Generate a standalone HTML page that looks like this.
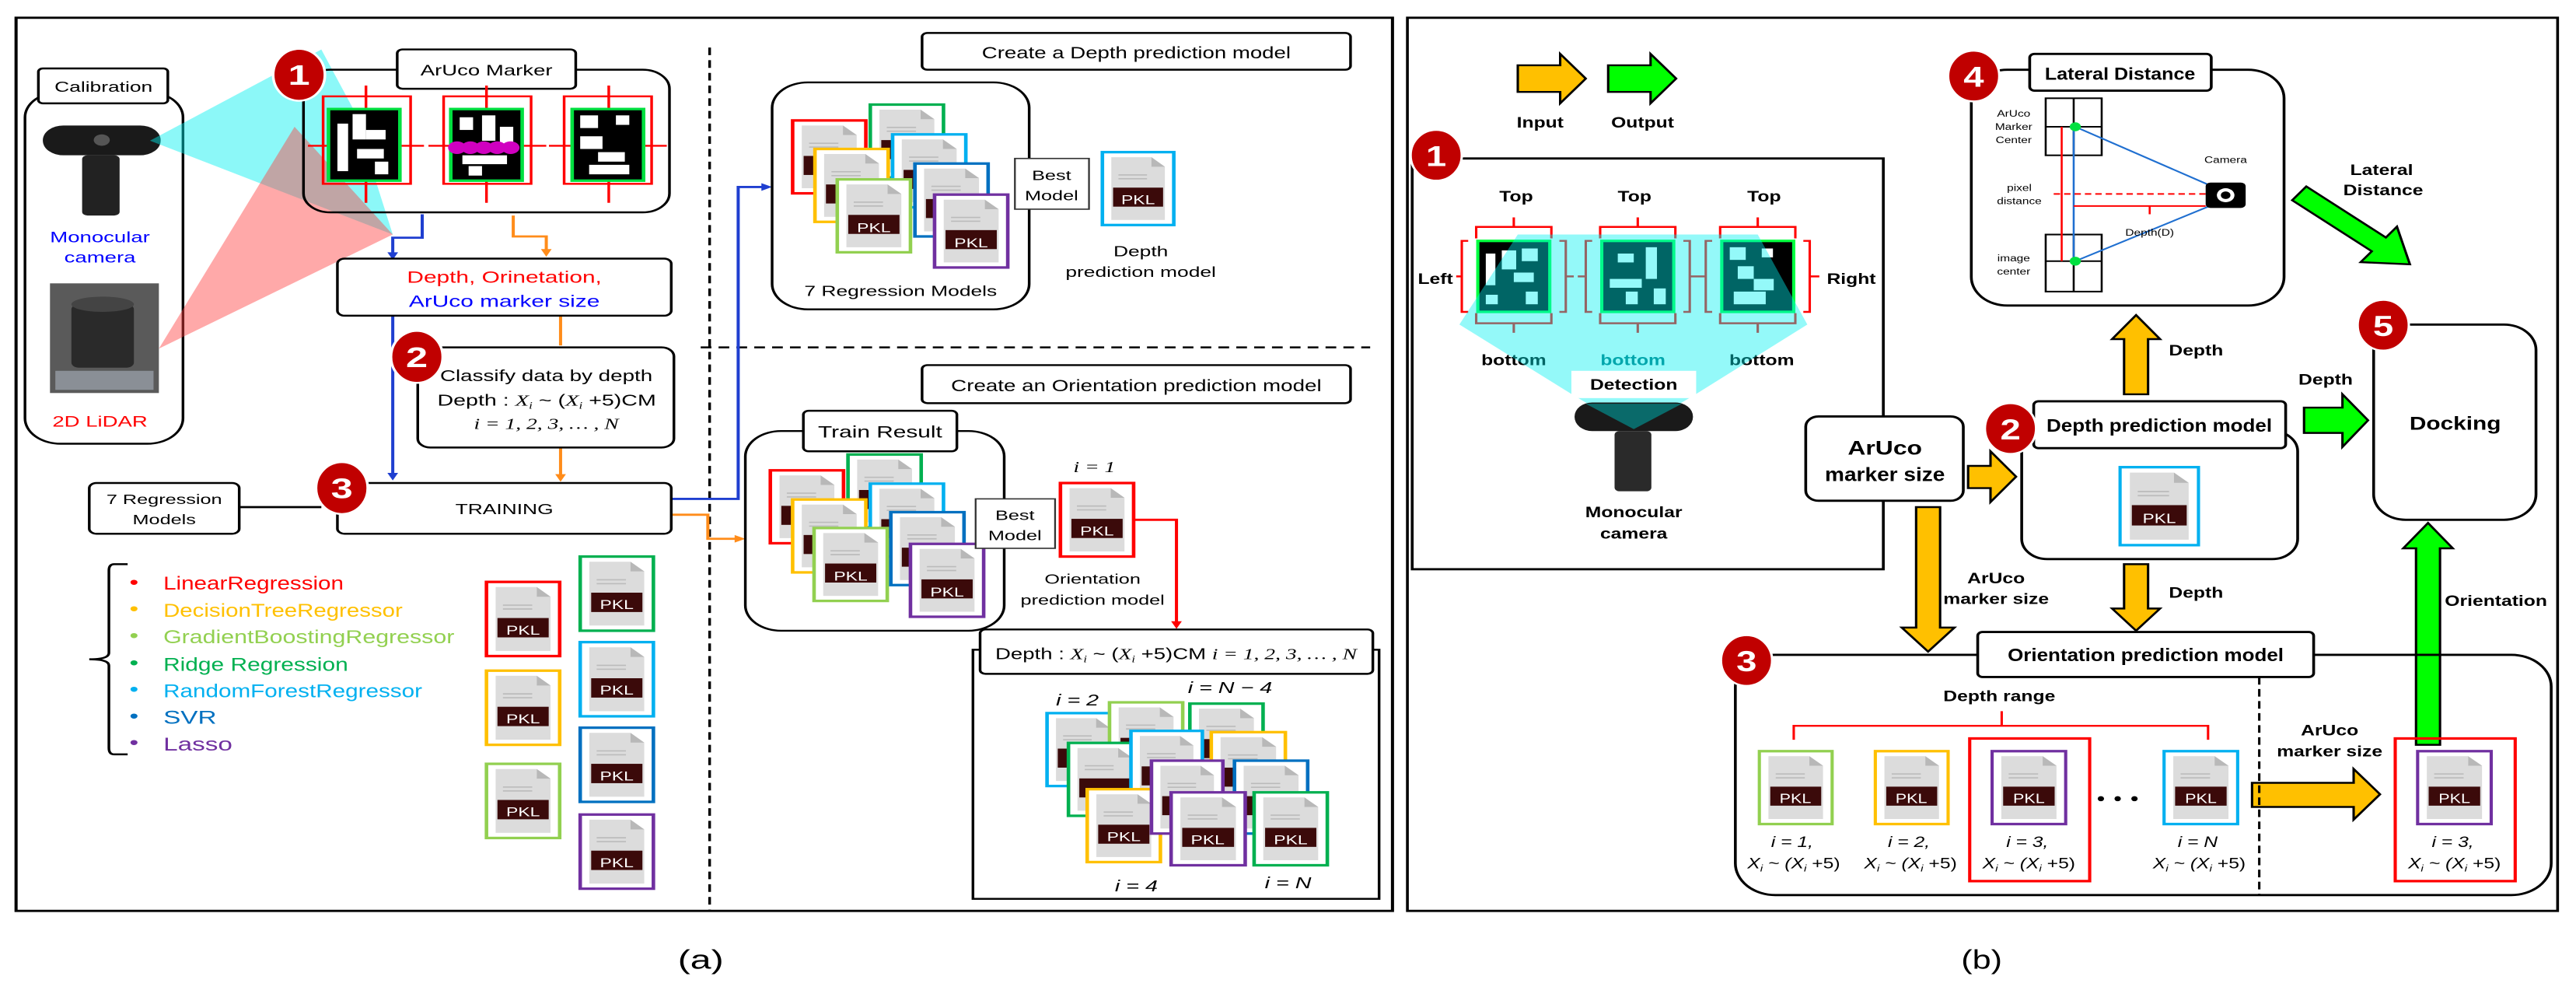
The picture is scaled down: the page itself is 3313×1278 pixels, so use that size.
<!DOCTYPE html>
<html><head><meta charset="utf-8"><style>
html,body{margin:0;padding:0;background:#fff;}
svg{display:block;}
text{font-family:"Liberation Sans",sans-serif;}
.b{font-weight:bold;}
.m{font-family:"Liberation Serif",serif;font-style:italic;}
</style></head><body>
<svg width="3313" height="1278" viewBox="0 0 3313 1278" xmlns="http://www.w3.org/2000/svg">
<defs>
<symbol id="doc" viewBox="0 0 80 115" preserveAspectRatio="none">
<polygon points="10,8 55,8 70,23 70,107 10,107" fill="#dcdcdc"/>
<polygon points="55,8 55,23 70,23" fill="#b8b8b8"/>
<line x1="18" y1="36" x2="50" y2="36" stroke="#bbb" stroke-width="2"/>
<line x1="18" y1="42" x2="50" y2="42" stroke="#bbb" stroke-width="2"/>
<rect x="12" y="56" width="56" height="30" fill="#3b0a0a"/>
</symbol>
</defs>
<rect width="3313" height="1278" fill="#fff"/>

<!-- ================= PANEL A ================= -->
<g transform="scale(1.148,0.815)">
<rect x="18" y="28" width="1542" height="1409" fill="none" stroke="#000" stroke-width="3.5"/>
<line x1="795" y1="75" x2="795" y2="1437" stroke="#000" stroke-width="3" stroke-dasharray="12,8"/>
<line x1="785" y1="548" x2="1535" y2="548" stroke="#000" stroke-width="3" stroke-dasharray="12,8"/>

<rect x="28" y="145" width="177" height="555" rx="40" fill="none" stroke="#000" stroke-width="3"/>
<rect x="43" y="108" width="145" height="55" rx="5" fill="#fff" stroke="#000" stroke-width="3"/>
<text x="116" y="145" font-size="23" text-anchor="middle">Calibration</text>
<rect x="48" y="198" width="132" height="47" rx="23" fill="#1a1a1a"/>
<circle cx="114" cy="221" r="9" fill="#555"/>
<rect x="92" y="245" width="42" height="95" rx="6" fill="#222"/>
<text x="112" y="382" font-size="24" fill="#0000ff" text-anchor="middle">Monocular</text>
<text x="112" y="414" font-size="24" fill="#0000ff" text-anchor="middle">camera</text>
<rect x="56" y="447" width="122" height="173" fill="#5a5a5a"/>
<rect x="80" y="480" width="70" height="100" rx="8" fill="#2a2a2a"/>
<ellipse cx="115" cy="480" rx="35" ry="12" fill="#444"/>
<rect x="62" y="585" width="110" height="30" fill="#8a8f96"/>
<text x="112" y="673" font-size="24" fill="#ff0000" text-anchor="middle">2D LiDAR</text>

<polygon points="168,222 360,78 395,170 440,370" fill="#00f0f0" fill-opacity="0.45"/>
<polygon points="178,550 330,200 440,370" fill="#ff4040" fill-opacity="0.45"/>

<rect x="340" y="110" width="410" height="225" rx="30" fill="none" stroke="#000" stroke-width="3"/>
<rect x="445" y="78" width="200" height="62" rx="6" fill="#fff" stroke="#000" stroke-width="3"/>
<text x="545" y="119" font-size="24" text-anchor="middle">ArUco Marker</text>
<g stroke="#ff0000" stroke-width="3" fill="none">
<rect x="362" y="152" width="98" height="138"/><line x1="345" y1="230" x2="475" y2="230"/><line x1="410" y1="135" x2="410" y2="320"/>
<rect x="497" y="152" width="98" height="138"/><line x1="480" y1="230" x2="612" y2="230"/><line x1="545" y1="135" x2="545" y2="320"/>
<rect x="632" y="152" width="98" height="138"/><line x1="615" y1="230" x2="747" y2="230"/><line x1="682" y1="135" x2="682" y2="320"/>
</g>
<g stroke="#00e040" stroke-width="4">
<rect x="368" y="172" width="80" height="113" fill="#000"/>
<rect x="505" y="172" width="80" height="113" fill="#000"/>
<rect x="641" y="172" width="80" height="113" fill="#000"/>
</g>
<g fill="#fff">
<rect x="378" y="195" width="12" height="75"/><rect x="395" y="180" width="15" height="40"/><rect x="410" y="205" width="22" height="15"/><rect x="400" y="235" width="30" height="15"/><rect x="420" y="255" width="15" height="20"/>
<rect x="515" y="185" width="15" height="20"/><rect x="540" y="182" width="15" height="40"/><rect x="560" y="200" width="15" height="30"/><rect x="518" y="245" width="50" height="14"/><rect x="525" y="262" width="15" height="15"/>
<rect x="650" y="182" width="20" height="20"/><rect x="690" y="182" width="15" height="15"/><rect x="650" y="215" width="25" height="20"/><rect x="670" y="240" width="30" height="15"/><rect x="660" y="260" width="45" height="15"/>
</g>
<g fill="#d000c0"><circle cx="512" cy="233" r="10"/><circle cx="527" cy="233" r="10"/><circle cx="542" cy="233" r="10"/><circle cx="557" cy="233" r="10"/><circle cx="572" cy="233" r="10"/></g>
<ellipse cx="335" cy="118" rx="29" ry="41" fill="#c00000" stroke="#fff" stroke-width="3"/>
<text x="335" y="134" font-size="44" class="b" fill="#fff" text-anchor="middle">1</text>

<g fill="none" stroke-width="3.5">
<path d="M473,338 V375 H440 V400" stroke="#1f3fd0"/>
<path d="M440,498 V748" stroke="#1f3fd0"/>
<path d="M752,787 H827 V295 H855" stroke="#1f3fd0"/>
<path d="M575,340 V373 H612 V395" stroke="#ff8c1a"/>
<path d="M628,498 V545" stroke="#ff8c1a"/>
<path d="M628,706 V750" stroke="#ff8c1a"/>
<path d="M752,812 H793 V850 H825" stroke="#ff8c1a"/>
<path d="M268,800 H360" stroke="#000"/>
<path d="M1270,820 H1318 V982" stroke="#ff0000"/>
</g>
<g>
<path d="M434,398 L446,398 L440,410 Z" fill="#1f3fd0"/>
<path d="M434,746 L446,746 L440,758 Z" fill="#1f3fd0"/>
<path d="M853,289 L865,295 L853,301 Z" fill="#1f3fd0"/>
<path d="M606,393 L618,393 L612,405 Z" fill="#ff8c1a"/>
<path d="M622,748 L634,748 L628,760 Z" fill="#ff8c1a"/>
<path d="M823,844 L835,850 L823,856 Z" fill="#ff8c1a"/>
<path d="M1312,980 L1324,980 L1318,992 Z" fill="#ff0000"/>
</g>

<rect x="378" y="408" width="374" height="90" rx="8" fill="#fff" stroke="#000" stroke-width="3"/>
<text x="565" y="446" font-size="26" fill="#ff0000" text-anchor="middle">Depth, Orinetation,</text>
<text x="565" y="484" font-size="26" fill="#0000ff" text-anchor="middle">ArUco marker size</text>

<rect x="468" y="548" width="287" height="158" rx="14" fill="#fff" stroke="#000" stroke-width="3"/>
<text x="612" y="601" font-size="25" text-anchor="middle" textLength="238" lengthAdjust="spacingAndGlyphs">Classify data by depth</text>
<text x="490" y="640" font-size="25" textLength="245" lengthAdjust="spacingAndGlyphs">Depth : <tspan class="m">X</tspan><tspan class="m" font-size="15" dy="5">i</tspan><tspan dy="-5"> ~ (</tspan><tspan class="m">X</tspan><tspan class="m" font-size="15" dy="5">i</tspan><tspan dy="-5"> +5)CM</tspan></text>
<text x="612" y="677" font-size="24" text-anchor="middle" class="m">i = 1, 2, 3, … , N</text>
<ellipse cx="467" cy="563" rx="29" ry="41" fill="#c00000" stroke="#fff" stroke-width="3"/>
<text x="467" y="579" font-size="44" class="b" fill="#fff" text-anchor="middle">2</text>

<rect x="378" y="762" width="374" height="80" rx="8" fill="#fff" stroke="#000" stroke-width="3"/>
<text x="565" y="811" font-size="23" text-anchor="middle">TRAINING</text>
<ellipse cx="383" cy="770" rx="29" ry="41" fill="#c00000" stroke="#fff" stroke-width="3"/>
<text x="383" y="786" font-size="44" class="b" fill="#fff" text-anchor="middle">3</text>

<rect x="100" y="762" width="168" height="80" rx="8" fill="#fff" stroke="#000" stroke-width="3"/>
<text x="184" y="795" font-size="22" text-anchor="middle">7 Regression</text>
<text x="184" y="827" font-size="22" text-anchor="middle">Models</text>

<path d="M143,890 H128 Q122,890 122,900 V1030 Q122,1040 100,1040 Q122,1040 122,1050 V1180 Q122,1190 128,1190 H143" fill="none" stroke="#000" stroke-width="3"/>
<g font-size="29">
<text x="145" y="928" fill="#ff0000">•</text><text x="183" y="930" fill="#ff0000" textLength="202" lengthAdjust="spacingAndGlyphs">LinearRegression</text>
<text x="145" y="970" fill="#ffc000">•</text><text x="183" y="973" fill="#ffc000" textLength="268" lengthAdjust="spacingAndGlyphs">DecisionTreeRegressor</text>
<text x="145" y="1012" fill="#92d050">•</text><text x="183" y="1015" fill="#92d050" textLength="326" lengthAdjust="spacingAndGlyphs">GradientBoostingRegressor</text>
<text x="145" y="1055" fill="#00b050">•</text><text x="183" y="1058" fill="#00b050" textLength="207" lengthAdjust="spacingAndGlyphs">Ridge Regression</text>
<text x="145" y="1097" fill="#00b0f0">•</text><text x="183" y="1100" fill="#00b0f0" textLength="290" lengthAdjust="spacingAndGlyphs">RandomForestRegressor</text>
<text x="145" y="1139" fill="#0070c0">•</text><text x="183" y="1142" fill="#0070c0">SVR</text>
<text x="145" y="1181" fill="#7030a0">•</text><text x="183" y="1184" fill="#7030a0">Lasso</text>
</g>

<g stroke-width="4" fill="#fff">
<rect x="545" y="918" width="82" height="117" stroke="#ff0000"/><rect x="545" y="1058" width="82" height="117" stroke="#ffc000"/><rect x="545" y="1205" width="82" height="117" stroke="#92d050"/>
<rect x="650" y="878" width="82" height="117" stroke="#00b050"/><rect x="650" y="1013" width="82" height="117" stroke="#00b0f0"/><rect x="650" y="1148" width="82" height="117" stroke="#0070c0"/><rect x="650" y="1285" width="82" height="117" stroke="#7030a0"/>
</g>
<use href="#doc" x="545" y="918" width="82" height="117"/><use href="#doc" x="545" y="1058" width="82" height="117"/><use href="#doc" x="545" y="1205" width="82" height="117"/>
<use href="#doc" x="650" y="878" width="82" height="117"/><use href="#doc" x="650" y="1013" width="82" height="117"/><use href="#doc" x="650" y="1148" width="82" height="117"/><use href="#doc" x="650" y="1285" width="82" height="117"/>
<g font-size="20" fill="#fff" text-anchor="middle">
<text x="586" y="1001">PKL</text><text x="586" y="1141">PKL</text><text x="586" y="1288">PKL</text>
<text x="691" y="961">PKL</text><text x="691" y="1096">PKL</text><text x="691" y="1231">PKL</text><text x="691" y="1368">PKL</text>
</g>

<rect x="1033" y="52" width="480" height="58" rx="6" fill="#fff" stroke="#000" stroke-width="3"/>
<text x="1273" y="92" font-size="26" text-anchor="middle" textLength="346" lengthAdjust="spacingAndGlyphs">Create a Depth prediction model</text>
<rect x="865" y="130" width="288" height="358" rx="40" fill="none" stroke="#000" stroke-width="3"/>
<g stroke-width="4" fill="#fff">
<rect x="888" y="190" width="82" height="115" stroke="#ff0000"/><use href="#doc" x="888" y="190" width="82" height="115"/>
<rect x="975" y="165" width="82" height="115" stroke="#00b050"/><use href="#doc" x="975" y="165" width="82" height="115"/>
<rect x="913" y="235" width="82" height="115" stroke="#ffc000"/><use href="#doc" x="913" y="235" width="82" height="115"/>
<rect x="1000" y="212" width="82" height="115" stroke="#00b0f0"/><use href="#doc" x="1000" y="212" width="82" height="115"/>
<rect x="938" y="283" width="82" height="115" stroke="#92d050"/><use href="#doc" x="938" y="283" width="82" height="115"/>
<rect x="1025" y="258" width="82" height="115" stroke="#0070c0"/><use href="#doc" x="1025" y="258" width="82" height="115"/>
<rect x="1047" y="307" width="82" height="115" stroke="#7030a0"/><use href="#doc" x="1047" y="307" width="82" height="115"/>
</g>
<g font-size="20" fill="#fff" text-anchor="middle"><text x="979" y="366">PKL</text><text x="1088" y="390">PKL</text></g>
<text x="1009" y="467" font-size="23" text-anchor="middle">7 Regression Models</text>
<rect x="1137" y="250" width="83" height="80" fill="#fff" stroke="#333" stroke-width="2"/>
<text x="1178" y="284" font-size="22" text-anchor="middle">Best</text><text x="1178" y="316" font-size="22" text-anchor="middle">Model</text>
<rect x="1235" y="240" width="80" height="115" fill="#fff" stroke="#00b0f0" stroke-width="4"/><use href="#doc" x="1235" y="240" width="80" height="115"/>
<text x="1275" y="322" font-size="20" fill="#fff" text-anchor="middle">PKL</text>
<text x="1278" y="404" font-size="23" text-anchor="middle">Depth</text>
<text x="1278" y="437" font-size="23" text-anchor="middle">prediction model</text>

<rect x="1033" y="576" width="480" height="60" rx="6" fill="#fff" stroke="#000" stroke-width="3"/>
<text x="1273" y="617" font-size="26" text-anchor="middle" textLength="415" lengthAdjust="spacingAndGlyphs">Create an Orientation prediction model</text>
<rect x="835" y="680" width="290" height="315" rx="40" fill="none" stroke="#000" stroke-width="3"/>
<rect x="900" y="648" width="172" height="64" rx="6" fill="#fff" stroke="#000" stroke-width="3"/>
<text x="986" y="690" font-size="26" text-anchor="middle">Train Result</text>
<g stroke-width="4" fill="#fff">
<rect x="863" y="742" width="82" height="115" stroke="#ff0000"/><use href="#doc" x="863" y="742" width="82" height="115"/>
<rect x="950" y="717" width="82" height="115" stroke="#00b050"/><use href="#doc" x="950" y="717" width="82" height="115"/>
<rect x="888" y="788" width="82" height="115" stroke="#ffc000"/><use href="#doc" x="888" y="788" width="82" height="115"/>
<rect x="975" y="763" width="82" height="115" stroke="#00b0f0"/><use href="#doc" x="975" y="763" width="82" height="115"/>
<rect x="912" y="833" width="82" height="115" stroke="#92d050"/><use href="#doc" x="912" y="833" width="82" height="115"/>
<rect x="998" y="808" width="82" height="115" stroke="#0070c0"/><use href="#doc" x="998" y="808" width="82" height="115"/>
<rect x="1020" y="858" width="82" height="115" stroke="#7030a0"/><use href="#doc" x="1020" y="858" width="82" height="115"/>
</g>
<g font-size="20" fill="#fff" text-anchor="middle"><text x="953" y="916">PKL</text><text x="1061" y="941">PKL</text></g>
<rect x="1093" y="787" width="89" height="78" fill="#fff" stroke="#333" stroke-width="2"/>
<text x="1137" y="820" font-size="22" text-anchor="middle">Best</text><text x="1137" y="852" font-size="22" text-anchor="middle">Model</text>
<text x="1226" y="745" font-size="24" class="m" text-anchor="middle">i = 1</text>
<rect x="1188" y="762" width="82" height="116" fill="#fff" stroke="#ff0000" stroke-width="4"/><use href="#doc" x="1188" y="762" width="82" height="116"/>
<text x="1229" y="845" font-size="20" fill="#fff" text-anchor="middle">PKL</text>
<text x="1224" y="921" font-size="22" text-anchor="middle">Orientation</text>
<text x="1224" y="954" font-size="22" text-anchor="middle">prediction model</text>

<rect x="1090" y="1025" width="455" height="393" fill="none" stroke="#000" stroke-width="3"/>
<rect x="1098" y="993" width="440" height="70" rx="6" fill="#fff" stroke="#000" stroke-width="3"/>
<text x="1115" y="1040" font-size="25" textLength="405" lengthAdjust="spacingAndGlyphs">Depth : <tspan class="m">X</tspan><tspan class="m" font-size="15" dy="5">i</tspan><tspan dy="-5"> ~ (</tspan><tspan class="m">X</tspan><tspan class="m" font-size="15" dy="5">i</tspan><tspan dy="-5"> +5)CM </tspan><tspan class="m">i = 1, 2, 3, … , N</tspan></text>
<g stroke-width="4" fill="#fff">
<rect x="1173" y="1125" width="80" height="115" stroke="#00b0f0"/><use href="#doc" x="1173" y="1125" width="80" height="115"/>
<rect x="1243" y="1108" width="82" height="115" stroke="#92d050"/><use href="#doc" x="1243" y="1108" width="82" height="115"/>
<rect x="1333" y="1110" width="82" height="115" stroke="#00b050"/><use href="#doc" x="1333" y="1110" width="82" height="115"/>
<rect x="1197" y="1172" width="81" height="115" stroke="#00b050"/><use href="#doc" x="1197" y="1172" width="81" height="115"/>
<rect x="1267" y="1153" width="80" height="115" stroke="#00b0f0"/><use href="#doc" x="1267" y="1153" width="80" height="115"/>
<rect x="1357" y="1155" width="83" height="115" stroke="#ffc000"/><use href="#doc" x="1357" y="1155" width="83" height="115"/>
<rect x="1218" y="1245" width="82" height="115" stroke="#ffc000"/><use href="#doc" x="1218" y="1245" width="82" height="115"/>
<rect x="1290" y="1200" width="80" height="115" stroke="#7030a0"/><use href="#doc" x="1290" y="1200" width="80" height="115"/>
<rect x="1383" y="1200" width="82" height="115" stroke="#0070c0"/><use href="#doc" x="1383" y="1200" width="82" height="115"/>
<rect x="1312" y="1250" width="83" height="115" stroke="#7030a0"/><use href="#doc" x="1312" y="1250" width="83" height="115"/>
<rect x="1405" y="1250" width="82" height="115" stroke="#00b050"/><use href="#doc" x="1405" y="1250" width="82" height="115"/>
</g>
<g font-size="20" fill="#fff" text-anchor="middle"><text x="1259" y="1327">PKL</text><text x="1353" y="1332">PKL</text><text x="1446" y="1332">PKL</text></g>
<g font-size="25" class="m" text-anchor="middle">
<text x="1207" y="1113">i = 2</text><text x="1378" y="1093">i = N − 4</text><text x="1273" y="1406">i = 4</text><text x="1443" y="1401">i = N</text>
</g>
<text x="785" y="1528" font-size="42" text-anchor="middle">(a)</text>
</g>

<!-- ================= PANEL B ================= -->
<g transform="translate(1700,0) scale(1.0287,0.815)">
<rect x="107" y="28" width="1438" height="1409" fill="none" stroke="#000" stroke-width="3.5"/>

<path d="M245,103 H298 V85 L330,124 L298,163 V145 H245 Z" fill="#ffc000" stroke="#000" stroke-width="3"/>
<path d="M358,103 H411 V85 L443,124 L411,163 V145 H358 Z" fill="#00ff00" stroke="#000" stroke-width="3"/>
<text x="273" y="201" font-size="24" class="b" text-anchor="middle">Input</text>
<text x="401" y="201" font-size="24" class="b" text-anchor="middle">Output</text>

<rect x="113" y="250" width="589" height="648" fill="none" stroke="#000" stroke-width="3.5"/>
<ellipse cx="143" cy="245" rx="32" ry="40" fill="#c00000" stroke="#fff" stroke-width="3"/>
<text x="143" y="262" font-size="46" class="b" fill="#fff" text-anchor="middle">1</text>
<g font-size="24" class="b" text-anchor="middle">
<text x="243" y="318">Top</text><text x="391" y="318">Top</text><text x="553" y="318">Top</text>
<text x="142" y="448">Left</text><text x="662" y="448">Right</text>
<text x="240" y="576">bottom</text><text x="389" y="576" fill="#00707a">bottom</text><text x="550" y="576">bottom</text>
</g>
<g stroke="#ff0000" stroke-width="3" fill="none">
<path d="M193,376 V358 H287 V376 M240,358 V343 M193,494 V510 H287 V494 M240,510 V525 M183,380 H175 V492 H183 M175,436 H168 M297,380 H305 V492 H297 M305,436 H315"/>
<path d="M348,376 V358 H442 V376 M395,358 V343 M348,494 V510 H442 V494 M395,510 V525 M338,380 H330 V492 H338 M330,436 H320 M452,380 H460 V492 H452 M460,436 H470"/>
<path d="M498,376 V358 H592 V376 M545,358 V343 M498,494 V510 H592 V494 M545,510 V525 M488,380 H480 V492 H488 M480,436 H470 M602,380 H610 V492 H602 M610,436 H622"/>
</g>
<g stroke="#00ff40" stroke-width="4" fill="#000">
<rect x="195" y="380" width="90" height="112"/><rect x="350" y="380" width="90" height="112"/><rect x="500" y="380" width="90" height="112"/>
</g>
<g fill="#fff">
<rect x="205" y="400" width="12" height="50"/><rect x="225" y="395" width="18" height="30"/><rect x="250" y="392" width="20" height="20"/><rect x="240" y="430" width="25" height="15"/><rect x="205" y="465" width="15" height="15"/><rect x="255" y="460" width="15" height="20"/>
<rect x="370" y="400" width="20" height="14"/><rect x="405" y="390" width="14" height="50"/><rect x="360" y="440" width="40" height="14"/><rect x="380" y="460" width="15" height="20"/><rect x="415" y="455" width="15" height="25"/>
<rect x="510" y="390" width="20" height="20"/><rect x="550" y="392" width="14" height="14"/><rect x="520" y="420" width="20" height="20"/><rect x="540" y="440" width="25" height="18"/><rect x="515" y="460" width="40" height="20"/>
</g>
<polygon points="172,512 245,370 545,370 607,512 470,620 390,680 310,620" fill="#00f0f0" fill-opacity="0.42"/>
<rect x="312" y="585" width="156" height="43" fill="#fff"/>
<text x="390" y="615" font-size="24" class="b" text-anchor="middle">Detection</text>
<rect x="316" y="635" width="148" height="45" rx="22" fill="#1a1a1a"/>
<polygon points="330,637 450,637 390,677" fill="#00a0a0" fill-opacity="0.6"/>
<rect x="366" y="680" width="46" height="95" rx="6" fill="#2a2a2a"/>
<text x="390" y="816" font-size="24" class="b" text-anchor="middle">Monocular</text>
<text x="390" y="850" font-size="24" class="b" text-anchor="middle">camera</text>

<rect x="605" y="657" width="197" height="133" rx="16" fill="#fff" stroke="#000" stroke-width="3.5"/>
<text x="704" y="717" font-size="31" class="b" text-anchor="middle">ArUco</text>
<text x="704" y="759" font-size="31" class="b" text-anchor="middle" textLength="150" lengthAdjust="spacingAndGlyphs">marker size</text>

<rect x="875" y="680" width="345" height="202" rx="32" fill="none" stroke="#000" stroke-width="3.5"/>
<rect x="890" y="633" width="315" height="74" rx="6" fill="#fff" stroke="#000" stroke-width="3.5"/>
<text x="1047" y="681" font-size="28" class="b" text-anchor="middle" textLength="282" lengthAdjust="spacingAndGlyphs">Depth prediction model</text>
<ellipse cx="861" cy="676" rx="32" ry="40" fill="#c00000" stroke="#fff" stroke-width="3"/>
<text x="861" y="693" font-size="46" class="b" fill="#fff" text-anchor="middle">2</text>
<rect x="998" y="737" width="98" height="123" fill="#fff" stroke="#00b0f0" stroke-width="4"/><use href="#doc" x="998" y="737" width="98" height="123"/>
<text x="1047" y="825" font-size="22" fill="#fff" text-anchor="middle">PKL</text>

<rect x="812" y="110" width="391" height="372" rx="45" fill="none" stroke="#000" stroke-width="3.5"/>
<rect x="885" y="85" width="227" height="58" rx="6" fill="#fff" stroke="#000" stroke-width="3.5"/>
<text x="998" y="126" font-size="27" class="b" text-anchor="middle" textLength="188" lengthAdjust="spacingAndGlyphs">Lateral Distance</text>
<ellipse cx="815" cy="120" rx="32" ry="40" fill="#c00000" stroke="#fff" stroke-width="3"/>
<text x="815" y="137" font-size="46" class="b" fill="#fff" text-anchor="middle">4</text>
<g stroke="#000" stroke-width="2.5" fill="none">
<rect x="905" y="155" width="70" height="90"/><line x1="940" y1="155" x2="940" y2="245"/><line x1="905" y1="200" x2="975" y2="200"/>
<rect x="905" y="370" width="70" height="90"/><line x1="940" y1="370" x2="940" y2="460"/><line x1="905" y1="412" x2="975" y2="412"/>
</g>
<line x1="940" y1="200" x2="940" y2="412" stroke="#1f6fd0" stroke-width="2.5"/>
<line x1="925" y1="200" x2="925" y2="412" stroke="#ff0000" stroke-width="2.5"/>
<line x1="940" y1="325" x2="1105" y2="325" stroke="#ff0000" stroke-width="2.5"/>
<line x1="1035" y1="325" x2="1035" y2="338" stroke="#ff0000" stroke-width="2.5"/>
<line x1="915" y1="306" x2="1110" y2="306" stroke="#ff0000" stroke-width="2.5" stroke-dasharray="8,5"/>
<line x1="942" y1="200" x2="1115" y2="295" stroke="#1f6fd0" stroke-width="2.5"/>
<line x1="942" y1="412" x2="1110" y2="325" stroke="#1f6fd0" stroke-width="2.5"/>
<circle cx="942" cy="200" r="7" fill="#00e040"/><circle cx="942" cy="412" r="7" fill="#00e040"/>
<rect x="1105" y="288" width="50" height="40" rx="6" fill="#000"/><circle cx="1130" cy="308" r="11" fill="#fff"/><circle cx="1130" cy="308" r="6" fill="#000"/>
<g font-size="15" text-anchor="middle">
<text x="865" y="184">ArUco</text><text x="865" y="205">Marker</text><text x="865" y="226">Center</text>
<text x="872" y="301">pixel</text><text x="872" y="322">distance</text>
<text x="865" y="412">image</text><text x="865" y="433">center</text>
<text x="1130" y="257">Camera</text><text x="1035" y="372">Depth(D)</text>
</g>

<path d="M808,735 H836 V712 L868,752 L836,792 V770 H808 Z" fill="#ffc000" stroke="#000" stroke-width="3"/>
<path d="M1003,622 V535 H988 L1018,497 L1048,535 H1033 V622 Z" fill="#ffc000" stroke="#000" stroke-width="3"/>
<path d="M1003,890 V960 H988 L1018,995 L1048,960 H1033 V890 Z" fill="#ffc000" stroke="#000" stroke-width="3"/>
<path d="M743,800 V990 H725 L758,1028 L791,990 H773 V800 Z" fill="#ffc000" stroke="#000" stroke-width="3"/>
<path d="M1163,1235 H1290 V1213 L1323,1253 L1290,1293 V1273 H1163 Z" fill="#ffc000" stroke="#000" stroke-width="3"/>
<path d="M1228,643 H1276 V622 L1308,663 L1276,705 V683 H1228 Z" fill="#00ff00" stroke="#000" stroke-width="3"/>
<path d="M1368,1175 V865 H1352 L1383,825 L1414,865 H1398 V1175 Z" fill="#00ff00" stroke="#000" stroke-width="3"/>
<path d="M0,-14 H128 V-36 L178,0 L128,36 V14 H0 Z" fill="#00ff00" stroke="#000" stroke-width="3" transform="translate(1222,305) rotate(39)"/>
<g font-size="24" class="b" text-anchor="middle">
<text x="1093" y="561">Depth</text><text x="1255" y="607">Depth</text><text x="1093" y="943">Depth</text>
<text x="843" y="920">ArUco</text><text x="843" y="953">marker size</text>
<text x="1325" y="276">Lateral</text><text x="1327" y="308">Distance</text>
<text x="1468" y="956">Orientation</text>
<text x="1260" y="1160">ArUco</text><text x="1260" y="1193">marker size</text>
<text x="847" y="1106">Depth range</text>
</g>

<rect x="1315" y="512" width="203" height="308" rx="40" fill="none" stroke="#000" stroke-width="3.5"/>
<text x="1417" y="678" font-size="29" class="b" text-anchor="middle">Docking</text>
<ellipse cx="1327" cy="513" rx="32" ry="40" fill="#c00000" stroke="#fff" stroke-width="3"/>
<text x="1327" y="530" font-size="46" class="b" fill="#fff" text-anchor="middle">5</text>

<rect x="517" y="1033" width="1020" height="379" rx="50" fill="none" stroke="#000" stroke-width="3.5"/>
<line x1="1172" y1="1068" x2="1172" y2="1412" stroke="#000" stroke-width="3" stroke-dasharray="12,7"/>
<rect x="820" y="997" width="420" height="71" rx="6" fill="#fff" stroke="#000" stroke-width="3.5"/>
<text x="1030" y="1043" font-size="28" class="b" text-anchor="middle" textLength="345" lengthAdjust="spacingAndGlyphs">Orientation prediction model</text>
<ellipse cx="531" cy="1042" rx="32" ry="40" fill="#c00000" stroke="#fff" stroke-width="3"/>
<text x="531" y="1059" font-size="46" class="b" fill="#fff" text-anchor="middle">3</text>
<path d="M590,1167 V1145 H1108 V1167 M850,1145 V1122" fill="none" stroke="#ff0000" stroke-width="3"/>
<rect x="810" y="1165" width="150" height="225" fill="none" stroke="#ff0000" stroke-width="4"/>
<rect x="1342" y="1165" width="150" height="225" fill="none" stroke="#ff0000" stroke-width="4"/>
<g stroke-width="4" fill="#fff">
<rect x="547" y="1185" width="91" height="115" stroke="#92d050"/><use href="#doc" x="547" y="1185" width="91" height="115"/>
<rect x="692" y="1185" width="91" height="115" stroke="#ffc000"/><use href="#doc" x="692" y="1185" width="91" height="115"/>
<rect x="838" y="1185" width="92" height="115" stroke="#7030a0"/><use href="#doc" x="838" y="1185" width="92" height="115"/>
<rect x="1053" y="1185" width="92" height="115" stroke="#00b0f0"/><use href="#doc" x="1053" y="1185" width="92" height="115"/>
<rect x="1370" y="1185" width="92" height="115" stroke="#7030a0"/><use href="#doc" x="1370" y="1185" width="92" height="115"/>
</g>
<g font-size="21" fill="#fff" text-anchor="middle">
<text x="592" y="1267">PKL</text><text x="737" y="1267">PKL</text><text x="884" y="1267">PKL</text><text x="1099" y="1267">PKL</text><text x="1416" y="1267">PKL</text>
</g>
<g fill="#000"><circle cx="974" cy="1260" r="4"/><circle cx="995" cy="1260" r="4"/><circle cx="1016" cy="1260" r="4"/></g>
<g font-size="24" class="m" text-anchor="middle">
<text x="588" y="1336">i = 1,</text><text x="734" y="1336">i = 2,</text><text x="882" y="1336">i = 3,</text><text x="1095" y="1336">i = N</text><text x="1414" y="1336">i = 3,</text>
<text x="590" y="1370">X<tspan font-size="15" dy="5">i</tspan><tspan dy="-5"> ~ (X</tspan><tspan font-size="15" dy="5">i</tspan><tspan dy="-5" font-style="normal"> +5)</tspan></text>
<text x="736" y="1370">X<tspan font-size="15" dy="5">i</tspan><tspan dy="-5"> ~ (X</tspan><tspan font-size="15" dy="5">i</tspan><tspan dy="-5" font-style="normal"> +5)</tspan></text>
<text x="884" y="1370">X<tspan font-size="15" dy="5">i</tspan><tspan dy="-5"> ~ (X</tspan><tspan font-size="15" dy="5">i</tspan><tspan dy="-5" font-style="normal"> +5)</tspan></text>
<text x="1097" y="1370">X<tspan font-size="15" dy="5">i</tspan><tspan dy="-5"> ~ (X</tspan><tspan font-size="15" dy="5">i</tspan><tspan dy="-5" font-style="normal"> +5)</tspan></text>
<text x="1416" y="1370">X<tspan font-size="15" dy="5">i</tspan><tspan dy="-5"> ~ (X</tspan><tspan font-size="15" dy="5">i</tspan><tspan dy="-5" font-style="normal"> +5)</tspan></text>
</g>
<text x="825" y="1528" font-size="42" text-anchor="middle">(b)</text>
</g>
</svg>
</body></html>
